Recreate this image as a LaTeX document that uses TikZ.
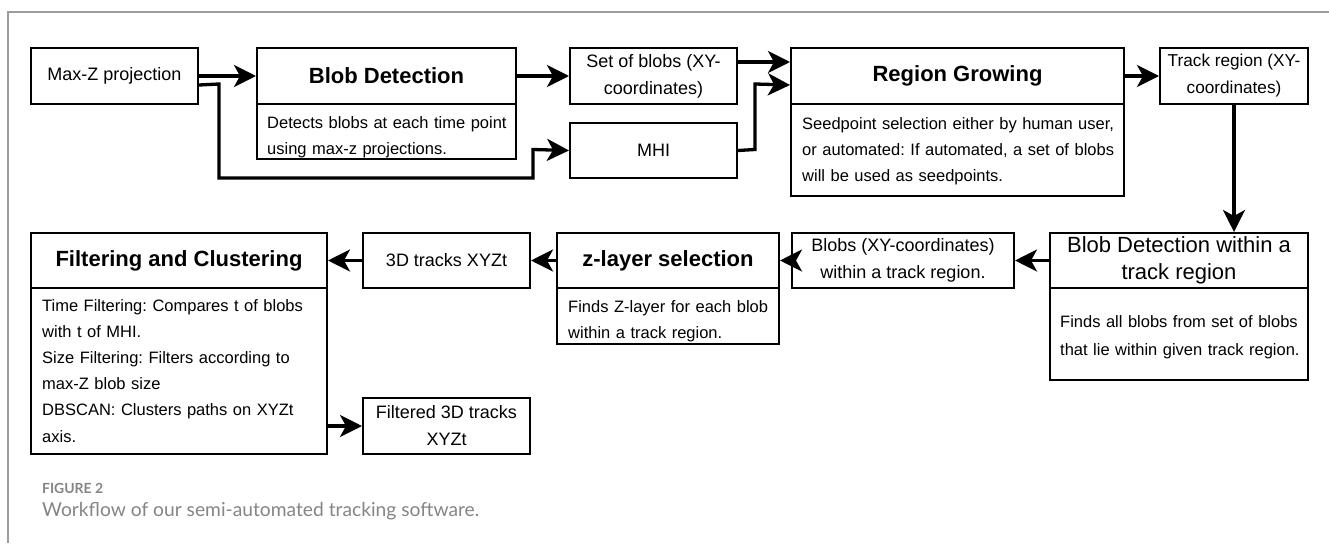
\documentclass[tikz,border=0pt]{standalone}
\usepackage{fontspec}
\usepackage{graphicx}
\setmainfont{Liberation Sans}
\newfontfamily\capfont{Lato}
\usetikzlibrary{arrows.meta}
\definecolor{framegray}{HTML}{9C9C9C}
\definecolor{capgray}{HTML}{858585}
\frenchspacing
\begin{document}
\begin{tikzpicture}[x=1pt,y=-1pt,
  box/.style={draw, line width=2pt, inner sep=0pt, anchor=north west},
  lbl/.style={box, font=\fontsize{18}{27}\selectfont, align=center},
  ttl/.style={box, font=\fontsize{22}{27}\selectfont\bfseries, align=center},
  bodytxt/.style={font=\fontsize{16.5}{26}\selectfont, anchor=base west, text width=330pt, align=left, inner sep=0pt},
  conn/.style={line width=3.3pt, -{Stealth[length=22pt,width=22pt,inset=6pt]}},
]
\fill[white] (0,0) rectangle (1329,543);
\useasboundingbox (0,0) rectangle (1329,543);
\draw[framegray, line width=1.5pt] (8,543) -- (8,12) -- (1329,12);

% top row
\node[lbl, minimum width=167pt, minimum height=56pt] (mz) at (30,47) {Max-Z projection};
\node[ttl, minimum width=259pt, minimum height=56pt] (bd) at (256,47) {Blob Detection};
\node[box, minimum width=259pt, minimum height=55pt] (bdb) at (256,103) {};
\node[bodytxt] (bdt) at (267,128) {Detects blobs at each time point\\using max-z projections.};
\node[lbl, minimum width=167pt, minimum height=56pt] (sb) at (569,47) {Set of blobs (XY-\\coordinates)};
\node[lbl, minimum width=167pt, minimum height=55pt] (mhi) at (569,122) {MHI};
\node[ttl, minimum width=333pt, minimum height=56pt] (rg) at (790,47) {Region Growing};
\node[box, minimum width=333pt, minimum height=92pt] (rgb) at (790,103) {};
\node[bodytxt] (rgt) at (802,129) {Seedpoint selection either by human user,\\or automated: If automated, a set of blobs\\will be used as seedpoints.};
\node[lbl, font=\fontsize{17.2}{27}\selectfont, minimum width=148pt, minimum height=56pt] (tr) at (1159,47) {Track region (XY-\\coordinates)};

% bottom row
\node[box, font=\fontsize{22}{27}\selectfont, align=center, minimum width=258pt, minimum height=55pt] (bdw) at (1049,232) {Blob Detection within a\\track region};
\node[box, minimum width=258pt, minimum height=92pt] (bdwb) at (1049,287) {};
\node[bodytxt, font=\fontsize{16.5}{28}\selectfont] (bdwt) at (1060,327) {Finds all blobs from set of blobs\\that lie within given track region.};
\node[lbl, minimum width=222pt, minimum height=55pt] (bl) at (791,232) {Blobs (XY-coordinates)\\within a track region.};
\node[ttl, minimum width=222pt, minimum height=55pt] (zl) at (556,232) {z-layer selection};
\node[box, minimum width=222pt, minimum height=56pt] (zlb) at (556,287) {};
\node[bodytxt] (zlt) at (568,312) {Finds Z-layer for each blob\\within a track region.};
\node[lbl, minimum width=167pt, minimum height=55pt] (t3) at (362,232) {3D tracks XYZt};
\node[ttl, minimum width=296pt, minimum height=55pt] (fc) at (30,232) {Filtering and Clustering};
\node[box, minimum width=296pt, minimum height=166pt] (fcb) at (30,287) {};
\node[bodytxt, font=\fontsize{16.5}{26.2}\selectfont] (fct) at (42,311) {Time Filtering: Compares t of blobs\\with t of MHI.\\Size Filtering: Filters according to\\max-Z blob size\\DBSCAN: Clusters paths on XYZt\\axis.};
\node[lbl, minimum width=167pt, minimum height=56pt] (ft) at (362,397) {Filtered 3D tracks\\XYZt};

% connectors
\draw[conn] (mz.east) -- (bd.west);
\draw[conn] ([yshift=-9pt]mz.east) -- (219,84) -- (219,178) -- (533,178) -- (533,149.5) -- (mhi.west);
\draw[conn] (bd.east) -- (sb.west);
\draw[conn] ([yshift=14pt]sb.east) -- ([yshift=14pt]rg.west);
\draw[conn] (mhi.east) -- (755,149.5) -- (755,84) -- ([yshift=-9pt]rg.west);
\draw[conn] (rg.east) -- (tr.west);
\draw[conn] (tr.south) -- (tr.south |- bdw.north);
\draw[conn] (bdw.west) -- (bl.east);
\draw[conn] (bl.west) -- (zl.east);
\draw[conn] (zl.west) -- (t3.east);
\draw[conn] (t3.west) -- (fc.east);
\draw[conn] (fcb.east |- ft.west) -- (ft.west);

% caption
\node[anchor=base west, inner sep=0pt, text=capgray, font=\capfont\bfseries\fontsize{15}{15}\selectfont] (figlbl) at (42,493) {\resizebox{61pt}{!}{FIGURE 2}};
\node[anchor=base west, inner sep=0pt, text=capgray, font=\capfont\fontsize{20}{20}\selectfont] (figcap) at (42,516) {\resizebox{437pt}{!}{Workflow of our semi-automated tracking software.}};
\end{tikzpicture}
\end{document}
